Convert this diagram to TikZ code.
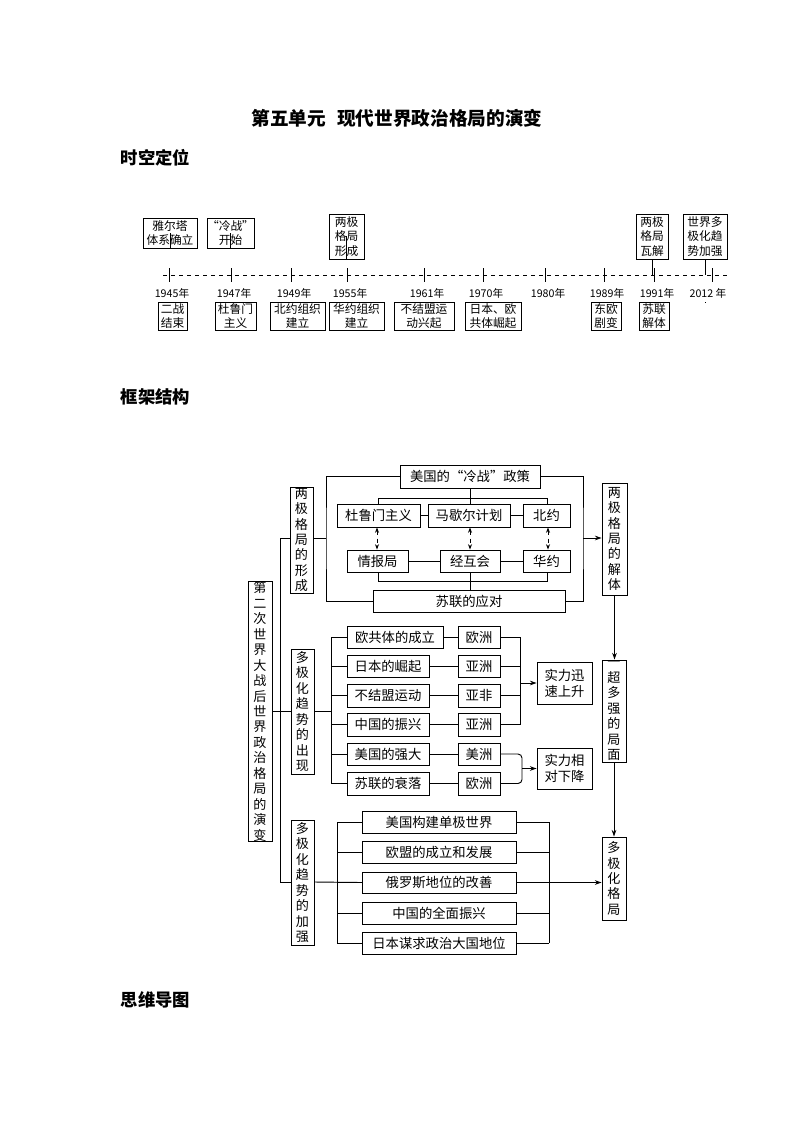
\documentclass[tikz,border=0pt]{standalone}
\usepackage{fontspec}
\setmainfont{Noto Sans CJK SC}
\usetikzlibrary{arrows.meta}
\newcommand\fz{\fontsize{10}{12}\selectfont}
\newcommand\ft{\fontsize{8.8}{11}\selectfont}
\newcommand\fy{\fontsize{8}{9}\selectfont}
\newcommand\fv{\fontsize{9.8}{11.6}\selectfont}
\tikzset{bx/.style={draw, line width=0.7pt, inner sep=0pt, align=center},
 ln/.style={line width=0.7pt},
 arr/.style={line width=0.7pt,-{Stealth[length=5pt,width=3.5pt]}},
 darr/.style={line width=0.6pt,dashed,{Stealth[length=4pt,width=3pt]}-{Stealth[length=4pt,width=3pt]}}}
\newcommand\bx[7][\fz]{\node[bx,font=#1,minimum width={(#5-#3)*0.75pt},minimum height={(#6-#4)*0.75pt}] (#2) at ({(#3+#5)/2},{(#4+#6)/2}) {#7};}
\begin{document}
\begin{tikzpicture}[x=0.75pt,y=-0.75pt]
\useasboundingbox (0,0) rectangle (794,1123);
\foreach \v in {331,337,377,470,520,522,548,549}{\coordinate (X\v) at (\v,0);}
\node[font=\fontsize{14}{16}\selectfont\bfseries] (title) at (397,118) {第五单元\hspace{0.6em}现代世界政治格局的演变};
\node[font=\fontsize{13}{15}\selectfont\bfseries,anchor=west] (h1) at (116,158) {时空定位};
\node[font=\fontsize{13}{15}\selectfont\bfseries,anchor=west] (h2) at (116,397) {框架结构};
\node[font=\fontsize{13}{15}\selectfont\bfseries,anchor=west] (h3) at (116,1000) {思维导图};
% timeline
\coordinate (ax0) at (163,275); \coordinate (ax1) at (730,275);
\draw[ln,dashed] (ax0) -- (ax1);
\foreach \n/\x/\yr in {a/169/1945,b/231/1947,c/291/1949,d/347/1955,e/424/1961,f/483/1970,g/545/1980,h/604/1989,i/654/1991}{
  \coordinate (t\n) at (\x,275);
  \draw[ln] (\x,268) -- (\x,282);
  \node[font=\fy] (y\n) at (\x+3,293) {\yr 年};
}
\coordinate (tj) at (712,275); \draw[ln] (712,268) -- (712,282);
\node[font=\fy] (yj) at (708,293) {2012 年};
\bx[\ft]{ta}{143}{218}{197}{248}{雅尔塔\\体系确立}
\bx[\ft]{tb}{208}{218}{253}{248}{“冷战”\\开始}
\bx[\ft]{tc}{329}{214}{364}{259}{两极\\格局\\形成}
\bx[\ft]{td}{636}{214}{668}{259}{两极\\格局\\瓦解}
\bx[\ft]{te}{683}{214}{727}{259}{世界多\\极化趋\\势加强}
\draw[ln] (ta.south) -- (ta.south|-tb);
\draw[ln] (tb.south) -- (tb.south|-tb);
\draw[ln] (tc.south) -- (tc.south|-td);
\draw[ln] (td.south) -- (td.south|-ti);
\draw[ln] (te.south) -- (te.south|-tj);
\bx[\ft]{ba}{158}{302}{187}{330}{二战\\结束}
\bx[\ft]{bb}{215}{302}{256}{330}{杜鲁门\\主义}
\bx[\ft]{bc}{270}{302}{325}{330}{北约组织\\建立}
\bx[\ft]{bd}{329}{302}{384}{330}{华约组织\\建立}
\bx[\ft]{be}{394}{302}{454}{330}{不结盟运\\动兴起}
\bx[\ft]{bf}{465}{302}{521}{330}{日本、欧\\共体崛起}
\bx[\ft]{bg}{591}{302}{621}{330}{东欧\\剧变}
\bx[\ft]{bh}{639}{302}{669}{330}{苏联\\解体}
\foreach \p/\q in {a/a,b/b,c/c,d/d,e/e,f/f,h/g,i/h}{
  \draw[ln] (t\p|-y\p.south) -- (t\p|-b\q.north);
}
% framework: bipolar
\bx{us}{400}{465}{540}{488}{美国的“冷战”政策}
\bx{tr}{337}{504}{420}{527}{杜鲁门主义}
\bx{ms}{428}{504}{510}{527}{马歇尔计划}
\bx{nato}{523}{504}{570}{527}{北约}
\bx{qb}{347}{550}{408}{572}{情报局}
\bx{jh}{440}{550}{500}{572}{经互会}
\bx{wp}{523}{550}{570}{572}{华约}
\bx{su}{373}{590}{565}{612}{苏联的应对}
\bx[\fv]{xc}{290}{487}{313}{593}{两\\极\\格\\局\\的\\形\\成}
\bx[\fv]{jt}{602}{483}{627}{595}{两\\极\\格\\局\\的\\解\\体}
\bx[\fv]{main}{248}{585}{272}{838}{第\\二\\次\\世\\界\\大\\战\\后\\世\\界\\政\\治\\格\\局\\的\\演\\变}
\coordinate (fl) at (326,538); \coordinate (fr) at (583,538);
\draw[ln] (us.west) -| (fl) |- (su.west);
\draw[ln] (us.east) -| (fr) |- (su.east);
\draw[ln] (xc.east|-fl) -- (fl);
\draw[arr] (fr) -- (fr-|jt.west);
\coordinate (tb1) at (378,498); \coordinate (tb2) at (547,498);
\draw[ln] (us.south) -- (us.south|-ms.north);
\draw[ln] (tb1|-tr.north) -- (tb1) -- (tb2) -- (tb2|-nato.north);
\draw[ln] (tr.east) -- (ms.west); \draw[ln] (ms.east) -- (nato.west);
\draw[ln] (qb.east) -- (jh.west); \draw[ln] (jh.east) -- (wp.west);
\coordinate (bb1) at (378,581); \coordinate (bb2) at (547,581);
\draw[ln] (tb1|-qb.south) -- (bb1) -- (bb2) -- (bb2|-wp.south);
\draw[ln] (jh.south) -- (jh.south|-su.north);
\draw[darr] (X377|-tr.south) -- (X377|-qb.north);
\draw[darr] (X470|-ms.south) -- (X470|-jh.north);
\draw[darr] (X548|-nato.south) -- (X548|-wp.north);
% trunk
\coordinate (trk0) at (280,538); \coordinate (trk1) at (280,882);
\draw[ln] (xc.west|-trk0) -- (trk0) -- (trk1);
% multipolar emergence
\bx[\fv]{cx}{291}{649}{314}{774}{多\\极\\化\\趋\\势\\的\\出\\现}
\draw[ln] (main.east|-cx) -- (cx.west);
\bx{l1}{347}{626}{443}{648}{欧共体的成立}
\bx{l2}{347}{655}{429}{677}{日本的崛起}
\bx{l3}{347}{684}{429}{707}{不结盟运动}
\bx{l4}{347}{713}{429}{736}{中国的振兴}
\bx{l5}{347}{743}{429}{765}{美国的强大}
\bx{l6}{347}{772}{429}{795}{苏联的衰落}
\bx{r1}{458}{626}{500}{648}{欧洲}
\bx{r2}{458}{655}{500}{677}{亚洲}
\bx{r3}{458}{684}{500}{707}{亚非}
\bx{r4}{458}{713}{500}{736}{亚洲}
\bx{r5}{458}{743}{500}{765}{美洲}
\bx{r6}{458}{772}{500}{795}{欧洲}
\draw[ln] (cx.east) -- (X331|-cx);
\draw[ln] (X331|-l1) -- (X331|-l6);
\foreach \i in {1,...,6}{\draw[ln] (X331|-l\i) -- (l\i.west); \draw[ln] (l\i.east) -- (r\i.west);}
\bx{up}{537}{662}{592}{704}{实力迅\\速上升}
\bx{dn}{537}{748}{592}{789}{实力相\\对下降}
\foreach \i in {1,...,4}{\draw[ln] (r\i.east) -- (X520|-r\i);}
\draw[ln] (X520|-r1) -- (X520|-r4);
\draw[arr] (X520|-up) -- (up.west);
\draw[ln,rounded corners=3pt] (r5.east) -| (X522|-dn);
\draw[ln,rounded corners=3pt] (r6.east) -| (X522|-dn);
\draw[arr] (X522|-dn) -- (dn.west);
\bx[\fv]{ych}{602}{660}{626}{762}{一\\超\\多\\强\\的\\局\\面}
\bx[\fv]{djh}{602}{837}{626}{920}{多\\极\\化\\格\\局}
\draw[arr] (jt.south) -- (jt.south|-ych.north);
\draw[arr] (ych.south) -- (ych.south|-djh.north);
% strengthening
\bx[\fv]{jq}{291}{820}{314}{945}{多\\极\\化\\趋\\势\\的\\加\\强}
\draw[ln] (trk1) -- (trk1-|jq.west);
\bx{m1}{362}{811}{516}{833}{美国构建单极世界}
\bx{m2}{362}{841}{516}{863}{欧盟的成立和发展}
\bx{m3}{362}{872}{516}{893}{俄罗斯地位的改善}
\bx{m4}{362}{902}{516}{924}{中国的全面振兴}
\bx{m5}{362}{932}{516}{954}{日本谋求政治大国地位}
\draw[ln] (jq.east|-trk1) -- (m3.west);
\draw[ln] (X337|-m1) -- (X337|-m5); \draw[ln] (X549|-m1) -- (X549|-m5);
\foreach \i in {1,...,5}{\draw[ln] (X337|-m\i) -- (m\i.west); \draw[ln] (m\i.east) -- (X549|-m\i);}
\draw[arr] (m3.east) -- (m3.east-|djh.west);
\end{tikzpicture}
\end{document}
